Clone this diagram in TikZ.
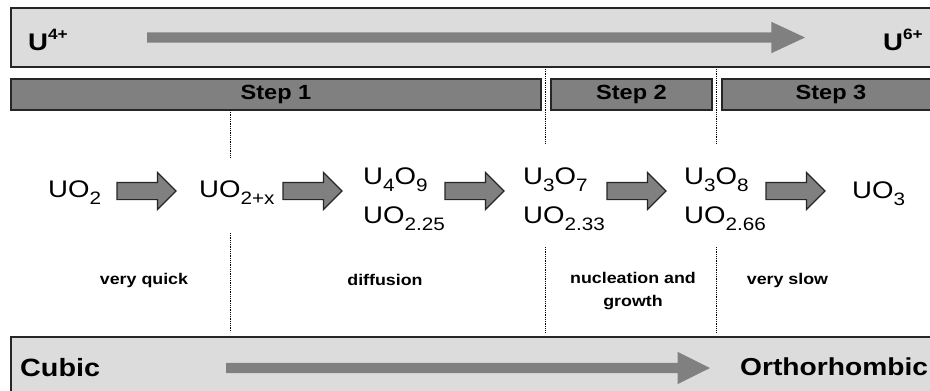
\documentclass[tikz,border=0pt]{standalone}
\usepackage{fontspec}
\setmainfont{Liberation Sans}
\usetikzlibrary{shapes.arrows}
\definecolor{boxgray}{HTML}{DCDCDC}
\definecolor{midgray}{HTML}{808080}
\newcommand\hx[1]{\scalebox{1.15}[1]{#1}}
\newcommand\sbs[1]{\raisebox{-7pt}{\fontsize{18}{18}\selectfont #1}}
\newcommand\sps[1]{\raisebox{11pt}{\fontsize{15}{15}\selectfont\bfseries #1}}
\begin{document}
\begin{tikzpicture}[x=1pt,y=-1pt,
  panel/.style={draw=black!85, line width=1.5pt, fill=boxgray, inner sep=0pt, outer sep=0pt},
  stepbar/.style={draw=black!85, line width=1.3pt, fill=midgray, inner sep=0pt, outer sep=0pt, minimum height=31pt, font=\fontsize{20.5}{24}\selectfont\bfseries},
  formula/.style={font=\fontsize{24}{28}\selectfont, inner sep=0pt, anchor=base west},
  lbl/.style={font=\fontsize{15.5}{23}\selectfont\bfseries, inner sep=0pt, align=center},
  big/.style={font=\fontsize{25}{30}\selectfont\bfseries, inner sep=0pt, anchor=base west},
  blockarrow/.style={single arrow, draw=black!85, line width=1.2pt, fill=midgray, minimum height=59pt, inner xsep=0pt, inner ysep=8pt, single arrow head extend=10pt, single arrow tip angle=90, outer sep=0pt, anchor=tail},
  bigarrow/.style={single arrow, fill=midgray, inner xsep=0pt, inner ysep=5pt, outer sep=0pt, anchor=tail},
  guide/.style={densely dotted, line width=0.8pt}
]
\useasboundingbox (0,0) rectangle (930,391);
\clip (0,0) rectangle (930,391);

% panels
\node[panel, minimum width=929pt, minimum height=59pt] (toppanel) at (475.5,37.5) {};
\node[panel, minimum width=929pt, minimum height=63pt] (botpanel) at (475.5,368.5) {};

% oxidation state
\node[big, font=\fontsize{24}{28}\selectfont\bfseries] (u4) at (28,50) {\hx{U\sps{4+}}};
\node[big, font=\fontsize{24}{28}\selectfont\bfseries] (u6) at (883,50) {\hx{U\sps{6+}}};
\node[bigarrow, minimum height=658pt, single arrow head extend=10.5pt, single arrow tip angle=50] (oxarrow) at (147,37.5) {};

% steps
\node[stepbar, minimum width=530pt] (s1) at (276,94.5) {\hx{Step 1}};
\node[stepbar, minimum width=161pt] (s2) at (631.5,94.5) {\hx{Step 2}};
\node[stepbar, minimum width=218pt] (s3) at (831,94.5) {\hx{Step 3}};

% guide lines
\draw[guide] (230,110) -- (230,158);
\draw[guide] (230,233) -- (230,332);
\draw[guide] (545,69) -- (545,143);
\draw[guide] (545,247) -- (545,332);
\draw[guide] (716,69) -- (716,143);
\draw[guide] (716,247) -- (716,332);

% formulas
\node[formula] (f1) at (48,197) {\hx{UO\sbs{2}}};
\node[formula] (f2) at (199,197) {\hx{UO\sbs{2+x}}};
\node[formula] (f3a) at (363,184) {\hx{U\sbs{4}O\sbs{9}}};
\node[formula] (f3b) at (363,223) {\hx{UO\sbs{2.25}}};
\node[formula] (f4a) at (523,184) {\hx{U\sbs{3}O\sbs{7}}};
\node[formula] (f4b) at (523,223) {\hx{UO\sbs{2.33}}};
\node[formula] (f5a) at (684,184) {\hx{U\sbs{3}O\sbs{8}}};
\node[formula] (f5b) at (684,223) {\hx{UO\sbs{2.66}}};
\node[formula] (f6) at (852,198) {\hx{UO\sbs{3}}};

% block arrows
\node[blockarrow] (a1) at (117,191) {};
\node[blockarrow] (a2) at (283,191) {};
\node[blockarrow] (a3) at (445,191) {};
\node[blockarrow] (a4) at (607,191) {};
\node[blockarrow] (a5) at (766,191) {};

% rate labels
\node[lbl] (l1) at (144,280) {\hx{very quick}};
\node[lbl] (l2) at (385,280) {\hx{diffusion}};
\node[lbl] (l3) at (633,291.5) {\hx{nucleation and}\\\hx{growth}};
\node[lbl] (l4) at (787.5,280) {\hx{very slow}};

% structure
\node[big] (cubic) at (20,376) {\hx{Cubic}};
\node[big, font=\fontsize{24.5}{30}\selectfont\bfseries] (ortho) at (740,375) {\hx{Orthorhombic}};
\node[bigarrow, minimum height=484pt, single arrow head extend=11pt, single arrow tip angle=53] (strarrow) at (226,368) {};
\end{tikzpicture}
\end{document}
